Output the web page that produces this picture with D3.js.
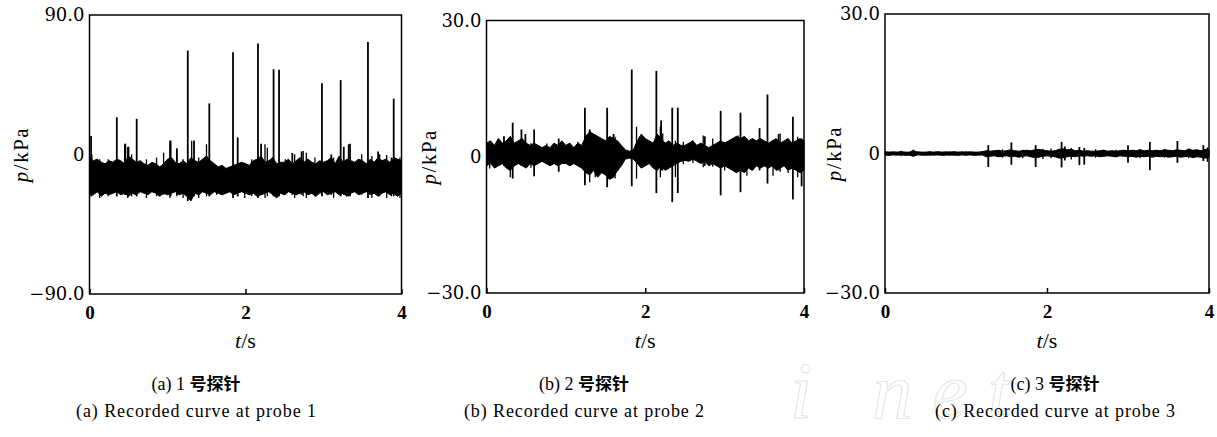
<!DOCTYPE html>
<html>
<head>
<meta charset="utf-8">
<script src="https://cdn.jsdelivr.net/npm/d3@7"></script>
<style>
  body { margin: 0; background: #fff; }
  svg { display: block; }
</style>
</head>
<body>
<div id="chart"></div>
<script>
// sample times of the read-off envelopes, every 0.05 s from 0 to 4 s
var sampleTimes = d3.range(0, 81).map(function(i) { return i * 0.05; });

// ---- probe 1 (kPa) ----
var p1Upper = [-2,-4,-3,-5,-6,-4,-5,-3,-4,-6,
  -1,-3,-5,-4,-6,-7,-5,-6,-8,-6,
  -3,-2,-5,-6,-4,-6,-2,-4,-5,-3,
  -1,-4,-6,-8,-7,-9,-8,-7,-6,-5,
  -6,-7,-4,-3,-1,-5,-4,-2,-6,-5,
  -5,-3,-6,-4,-2,-5,-3,-5,-6,-4,
  -5,-4,-2,-6,-1,-5,-3,-4,-5,-3,
  -4,-6,-3,-5,-2,-4,-3,-5,-2,-3,
  -4];
var p1Lower = [-25,-26,-24,-27,-25,-26,-25,-24,-26,-25,
  -27,-25,-26,-24,-25,-26,-24,-25,-27,-25,
  -26,-25,-24,-26,-25,-27,-30,-25,-26,-24,
  -25,-26,-24,-25,-26,-25,-24,-26,-25,-24,
  -25,-26,-25,-27,-26,-25,-24,-26,-28,-25,
  -26,-24,-25,-26,-25,-24,-26,-25,-27,-25,
  -24,-26,-25,-24,-26,-25,-27,-25,-24,-26,
  -25,-24,-26,-25,-27,-25,-24,-26,-25,-27,
  -25];
var p1SpikeT  = [0.02, 0.35, 0.46, 0.50, 0.605, 1.04, 1.12, 1.26, 1.34, 1.536, 1.84, 1.90, 2.16, 2.20, 2.36, 2.43, 2.60, 2.72, 2.98, 3.10, 3.22, 3.26, 3.34, 3.57, 3.70, 3.90];
var p1SpikeHi = [12, 24, 7, 5, 23, 9, 4, 67, 9, 33, 66, 11, 71.6, 7, 55, 54.7, 1, 2, 46, 0, 48, 5, 7, 72.6, 2, 36];
var p1SpikeLo = [-27, -27, -26, -26, -27, -27, -26, -30, -27, -27, -28, -27, -28, -26, -27, -27, -26, -26, -27, -26, -27, -26, -27, -28, -26, -27];
var p1MinorT  = [0.03,0.13,0.24,0.45,0.49,0.54,0.73,0.86,0.95,1.03,1.12,1.20,1.31,1.40,1.50,1.63,1.99,2.08,2.25,2.28,2.51,2.63,2.74,2.78,2.89,3.13,3.32,3.49,3.62,3.72,3.81,3.87,3.98];
var p1MinorHi = [0.1,-3.1,-3.1,6.6,4.9,0.1,-3.1,-2,1.2,8.8,0.1,-3.1,8.8,-2,6.6,-7.4,-5.3,-3.1,6.6,4.4,-3.1,0.1,2.2,1.2,-2,-2,6.6,0.1,-1,0.1,-0.3,-2,-2];
var p1MinorLo = [-27,-28,-27,-26,-28,-27,-28,-27,-26,-28,-27,-28,-27,-28,-27,-26,-28,-27,-28,-27,-26,-28,-27,-28,-27,-28,-27,-26,-28,-27,-28,-27,-28];

// ---- probe 2 (kPa) ----
var p2Upper = [3,3.5,2.5,4,3,3.5,4.5,3,3.5,4,
  3,2.5,3,2.5,2,2.5,2,3,2.5,3.5,
  2.5,3,2,3,2.5,4.5,5.5,5,4.5,4,
  3.5,4.5,4,3.5,2.5,1.5,1.2,1.5,3.5,5,
  4,3.5,3,5,4,3,3.5,2.5,3,2.5,
  2.5,3,3.5,2.5,3,2.5,2,2.5,3,3.5,
  3,3.5,4,4.5,4,4.5,3.5,4,3.5,4,
  3.5,3,3.5,4,3,3.5,4,3,3.5,4,
  3.5];
var p2Lower = [-2,-1.5,-2.5,-2,-1.5,-2.5,-3,-2,-1.5,-2,
  -2.5,-1.5,-2,-1.5,-1,-1.5,-2,-1.5,-2,-1.5,
  -1.5,-2,-1.5,-2,-2.5,-3.5,-4,-3,-4.5,-3.5,
  -4,-5,-4.5,-3,-2,-0.5,-0.3,-0.5,-1.5,-2.5,
  -2,-1.5,-2.5,-3,-2,-3,-2.5,-2,-1.5,-1,
  -0.8,-1,-0.5,-1,-1.5,-1,-2,-1.5,-2,-2.5,
  -2,-2.5,-3,-3.5,-3,-3.5,-2.5,-3,-2,-2.5,
  -2,-2.5,-2,-3,-2.5,-2,-3,-2.5,-3,-3.5,
  -3];
var p2SpikeT  = [0.22, 0.33, 0.44, 0.49, 0.60, 0.91, 1.24, 1.30, 1.52, 1.60, 1.83, 2.14, 2.20, 2.34, 2.41, 2.75, 2.95, 3.20, 3.44, 3.54, 3.68, 3.86, 3.97];
var p2SpikeHi = [4.5, 7.5, 6, 5, 6, 4, 10.8, 6, 10.8, 5, 19.2, 18.9, 8, 10.8, 10.8, 4.5, 10.1, 9.7, 6.3, 13.7, 5, 8.8, 4];
var p2SpikeLo = [-2, -4.8, -2, -2, -4.3, -3.3, -6.3, -3, -6.7, -4, -6.5, -8, -3, -10, -8, -2, -8.5, -7.8, -3, -5.9, -3, -9.4, -6.5];
var p2MinorT  = [0.04, 0.30, 0.56, 0.76, 1.05, 1.15, 1.30, 1.37, 1.47, 1.62, 1.66, 1.89, 2.19, 2.22, 2.38, 2.48, 2.60, 2.73, 2.85, 3.00, 3.07, 3.17, 3.28, 3.61, 3.70, 3.80, 3.92];
var p2MinorHi = [3.3, 4.4, 3.0, 2.9, 2.9, 3.3, 5.8, 4.7, 3.6, 4.4, 3.3, 6.6, 6.6, 5.1, 3.5, 3.3, 3.6, 4.7, 4.0, 3.2, 3.6, 4.7, 4.0, 3.6, 5.1, 4.0, 4.4];
var p2MinorLo = [-2.6, -4.5, -2.4, -1.5, -1.8, -1.9, -5.6, -4.5, -3.0, -4.8, -3.0, -4.8, -4.5, -3.0, -4.5, -1.6, -1.4, -2.3, -2.2, -3.0, -2.6, -3.0, -4.2, -4.2, -3.3, -3.6, -4.5];

// ---- probe 3 (kPa) ----
var p3Upper = [0.4,0.3,0.35,0.3,0.4,0.3,0.3,0.6,0.35,0.3,
  0.3,0.35,0.3,0.4,0.3,0.35,0.3,0.4,0.3,0.35,
  0.3,0.35,0.3,0.3,0.4,0.6,0.5,0.6,0.7,0.5,
  0.6,0.8,0.6,0.5,0.6,0.7,0.6,0.8,0.9,0.7,
  0.6,0.5,0.6,0.9,1.0,0.8,0.9,0.6,0.7,0.5,
  0.6,0.5,0.5,0.6,0.7,0.5,0.6,0.5,0.6,0.7,
  0.6,0.7,0.6,0.8,0.6,0.7,0.6,0.7,0.6,0.8,
  0.7,0.6,0.8,0.7,0.6,0.9,0.7,0.8,0.6,0.9,
  0.8];
var p3Lower = [-0.35,-0.4,-0.3,-0.35,-0.3,-0.4,-0.35,-0.6,-0.3,-0.35,
  -0.4,-0.3,-0.35,-0.3,-0.4,-0.35,-0.3,-0.35,-0.4,-0.3,
  -0.35,-0.3,-0.4,-0.35,-0.3,-0.7,-0.6,-0.5,-0.7,-0.6,
  -0.5,-0.7,-0.6,-0.8,-0.6,-0.5,-0.7,-0.9,-0.8,-0.6,
  -0.5,-0.6,-0.7,-1.0,-0.9,-0.7,-0.6,-0.7,-0.5,-0.6,
  -0.5,-0.6,-0.5,-0.7,-0.6,-0.5,-0.6,-0.7,-0.5,-0.6,
  -0.7,-0.6,-0.8,-0.6,-0.7,-0.6,-0.8,-0.6,-0.7,-0.6,
  -0.8,-0.7,-0.6,-0.8,-0.7,-0.6,-0.9,-0.7,-0.8,-1.0,
  -0.8];
var p3SpikeT  = [0.35, 1.275, 1.56, 1.86, 2.18, 2.22, 2.40, 2.46, 2.70, 3.00, 3.27, 3.61, 3.93];
var p3SpikeHi = [0.8, 1.8, 2.4, 1.8, 2.5, 1.5, 1.4, 1.2, 0.8, 1.8, 2.5, 2.7, 1.8];
var p3SpikeLo = [-0.6, -2.9, -2.4, -2.9, -3, -1.5, -2.5, -2.4, -0.6, -2, -3.6, -2, -1.6];
var p3MinorT  = [0.20, 0.55, 0.80, 1.00, 1.45, 1.70, 1.95, 2.05, 2.30, 2.60, 2.85, 3.15, 3.45, 3.75, 3.98];
var p3MinorHi = [0.6, 0.5, 0.5, 0.5, 0.9, 0.8, 1.0, 1.1, 1.2, 0.9, 0.8, 0.9, 1.0, 1.1, 1.3];
var p3MinorLo = [-0.6, -0.5, -0.5, -0.5, -0.9, -1.0, -1.2, -1.0, -1.3, -0.9, -0.8, -1.0, -0.9, -1.0, -1.8];

// axis ticks and captions
var xTicks = [0, 2, 4];
var yLabels1 = ['\u221290.0', '0', '90.0'];
var yLabels23 = ['\u221230.0', '0', '30.0'];
var captionCn = ['(a) 1 ', '(b) 2 ', '(c) 3 '];
var captionEn = ['(a) Recorded curve at probe 1', '(b) Recorded curve at probe 2', '(c) Recorded curve at probe 3'];

var width = 1217,
    height = 437;

var svg = d3.select('#chart').append('svg')
  .attr('width', width)
  .attr('height', height);

// faint watermark behind everything
svg.append('text')
  .attr('x', 790)
  .attr('y', 418)
  .attr('font-family', 'Liberation Serif')
  .attr('font-style', 'italic')
  .attr('font-size', 80)
  .attr('letter-spacing', 20)
  .attr('fill', 'none')
  .attr('stroke', '#e3e3e3')
  .attr('stroke-width', 1)
  .text('i net');

var panels = [
  { left: 89.5, right: 401.5, top: 15, bottom: 294, yMax: 90, labels: yLabels1,
    upper: p1Upper, lower: p1Lower, spikeT: p1SpikeT, spikeHi: p1SpikeHi, spikeLo: p1SpikeLo,
    minorT: p1MinorT, minorHi: p1MinorHi, minorLo: p1MinorLo, ylabX: 28, capX: 196 },
  { left: 486.5, right: 804, top: 20.5, bottom: 293, yMax: 30, labels: yLabels23,
    upper: p2Upper, lower: p2Lower, spikeT: p2SpikeT, spikeHi: p2SpikeHi, spikeLo: p2SpikeLo,
    minorT: p2MinorT, minorHi: p2MinorHi, minorLo: p2MinorLo, ylabX: 436, capX: 584 },
  { left: 885, right: 1209, top: 14, bottom: 293, yMax: 30, labels: yLabels23,
    upper: p3Upper, lower: p3Lower, spikeT: p3SpikeT, spikeHi: p3SpikeHi, spikeLo: p3SpikeLo,
    minorT: p3MinorT, minorHi: p3MinorHi, minorLo: p3MinorLo, ylabX: 841, capX: 1055 }
];

panels.forEach(function(p, k) {
  var xScale = d3.scaleLinear().domain([0, 4]).range([p.left, p.right]);
  var yScale = d3.scaleLinear().domain([-p.yMax, p.yMax]).range([p.bottom, p.top]);
  var g = svg.append('g');

  // noise band
  var band = d3.area()
    .x(function(d, i) { return xScale(sampleTimes[i]); })
    .y0(function(d, i) { return yScale(p.lower[i]); })
    .y1(function(d) { return yScale(d); });

  g.append('path')
    .attr('d', band(p.upper))
    .attr('fill', '#000')
    .attr('stroke', '#000')
    .attr('stroke-width', 1);

  // small noise spikes on the band edges
  g.selectAll('line.minor')
    .data(p.minorT)
    .enter().append('line')
    .attr('class', 'minor')
    .attr('x1', function(d) { return xScale(d); })
    .attr('x2', function(d) { return xScale(d); })
    .attr('y1', function(d, i) { return yScale(p.minorLo[i]); })
    .attr('y2', function(d, i) { return yScale(p.minorHi[i]); })
    .attr('stroke', '#000')
    .attr('stroke-width', 1.3);

  // large spikes
  g.selectAll('line.spike')
    .data(p.spikeT)
    .enter().append('line')
    .attr('class', 'spike')
    .attr('x1', function(d) { return xScale(d); })
    .attr('x2', function(d) { return xScale(d); })
    .attr('y1', function(d, i) { return yScale(p.spikeLo[i]); })
    .attr('y2', function(d, i) { return yScale(p.spikeHi[i]); })
    .attr('stroke', '#000')
    .attr('stroke-width', 1.8);

  // frame
  g.append('rect')
    .attr('x', p.left)
    .attr('y', p.top)
    .attr('width', p.right - p.left)
    .attr('height', p.bottom - p.top)
    .attr('fill', 'none')
    .attr('stroke', '#000')
    .attr('stroke-width', 1.5);

  // y axis labels
  var yAxis = d3.axisLeft(yScale)
    .tickValues([-p.yMax, 0, p.yMax])
    .tickSize(0)
    .tickPadding(5)
    .tickFormat(function(d, i) { return p.labels[i]; });

  var ya = g.append('g')
    .attr('transform', 'translate(' + p.left + ',0)')
    .call(yAxis);
  ya.select('.domain').remove();
  ya.selectAll('text')
    .attr('font-family', 'DejaVu Serif')
    .attr('font-size', 18)
    .attr('fill', '#000');

  // x axis: inward tick at the middle, bold labels
  var xAxis = d3.axisBottom(xScale)
    .tickValues(xTicks)
    .tickSizeInner(-5)
    .tickSizeOuter(0)
    .tickPadding(12)
    .tickFormat(d3.format('d'));

  var xa = g.append('g')
    .attr('transform', 'translate(0,' + p.bottom + ')')
    .call(xAxis);
  xa.select('.domain').remove();
  xa.selectAll('line').attr('stroke', '#000').attr('stroke-width', 1.5);
  xa.selectAll('text')
    .attr('font-family', 'Liberation Serif')
    .attr('font-weight', 'bold')
    .attr('font-size', 19)
    .attr('fill', '#000');

  // axis titles
  var xt = g.append('text')
    .attr('x', (p.left + p.right) / 2)
    .attr('y', 348)
    .attr('text-anchor', 'middle')
    .attr('font-family', 'Liberation Serif')
    .attr('font-size', 22);
  xt.append('tspan').attr('font-style', 'italic').text('t');
  xt.append('tspan').text('/s');

  var yt = g.append('text')
    .attr('transform', 'translate(' + p.ylabX + ',' + yScale(0) + ') rotate(-90)')
    .attr('text-anchor', 'middle')
    .attr('font-family', 'Liberation Serif')
    .attr('font-size', 21)
    .attr('letter-spacing', 1.5);
  yt.append('tspan').attr('font-style', 'italic').text('p');
  yt.append('tspan').text('/kPa');

  // captions
  var c1 = g.append('text')
    .attr('x', p.capX)
    .attr('y', 390)
    .attr('text-anchor', 'middle')
    .attr('font-size', 18);
  c1.append('tspan').attr('font-family', 'Liberation Serif').text(captionCn[k]);
  c1.append('tspan').attr('font-family', 'Noto Sans CJK SC').attr('font-weight', 'bold').attr('font-size', 17).text('号探针');

  g.append('text')
    .attr('x', p.capX)
    .attr('y', 417)
    .attr('text-anchor', 'middle')
    .attr('font-family', 'Liberation Serif')
    .attr('font-size', 18)
    .attr('textLength', 240)
    .attr('lengthAdjust', 'spacing')
    .text(captionEn[k]);
});
</script>
</body>
</html>
